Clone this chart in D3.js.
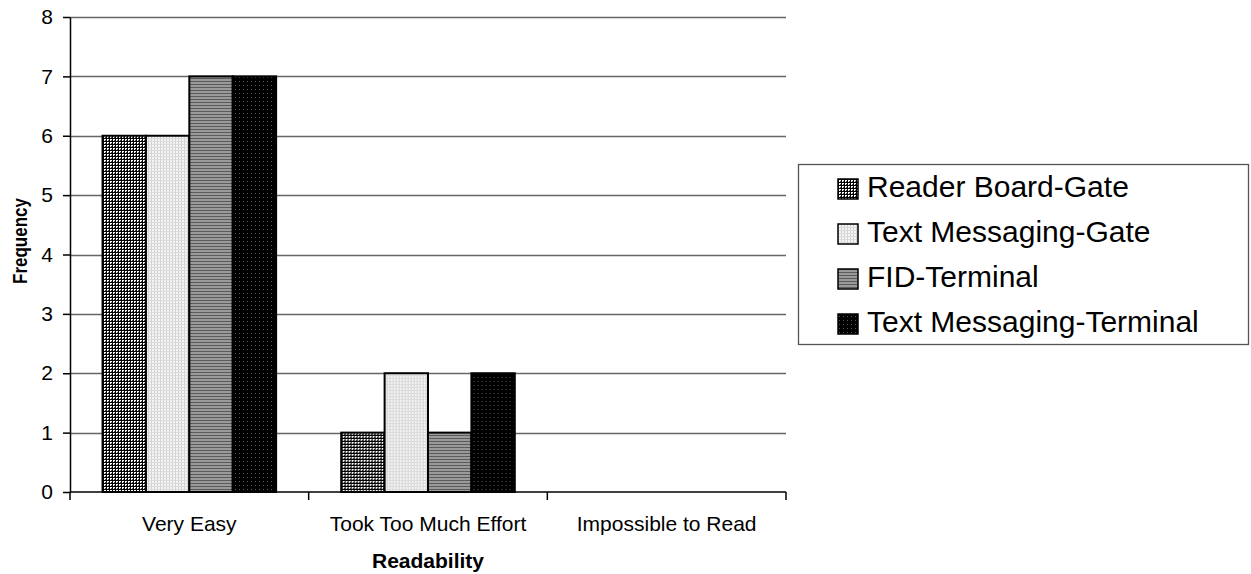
<!DOCTYPE html>
<html>
<head>
<meta charset="utf-8">
<script src="https://cdn.jsdelivr.net/npm/d3@7/dist/d3.min.js"></script>
<style>
  html, body { margin: 0; padding: 0; background: #fff; }
  svg { display: block; font-family: "Liberation Sans", Arial, sans-serif; }
</style>
</head>
<body>
<svg id="chart" width="1251" height="574"></svg>
<script>
// Readability survey responses
const categories = ["Very Easy", "Took Too Much Effort", "Impossible to Read"];
const seriesNames = ["Reader Board-Gate", "Text Messaging-Gate", "FID-Terminal", "Text Messaging-Terminal"];
const readerBoardGate = [6, 1, 0];
const textMessagingGate = [6, 2, 0];
const fidTerminal = [7, 1, 0];
const textMessagingTerminal = [7, 2, 0];
const yTicks = [0, 1, 2, 3, 4, 5, 6, 7, 8];

const seriesValues = [readerBoardGate, textMessagingGate, fidTerminal, textMessagingTerminal];
const patternIds = ["pat-grid", "pat-lightdots", "pat-hstripes", "pat-darkdots"];

const svg = d3.select("#chart");
const plot = { left: 70, right: 786, top: 17, bottom: 492 };

// Fill patterns for the four series
const defs = svg.append("defs");
{
  const p = defs.append("pattern").attr("id", "pat-grid")
    .attr("patternUnits", "userSpaceOnUse").attr("width", 3).attr("height", 3);
  p.append("rect").attr("width", 3).attr("height", 3).attr("fill", "#fff");
  p.append("rect").attr("width", 3).attr("height", 1).attr("fill", "#000");
  p.append("rect").attr("width", 1).attr("height", 3).attr("fill", "#000");
  p.append("rect").attr("x", 2).attr("y", 2).attr("width", 1).attr("height", 1).attr("fill", "#444");
}
{
  const p = defs.append("pattern").attr("id", "pat-lightdots")
    .attr("patternUnits", "userSpaceOnUse").attr("width", 3).attr("height", 3);
  p.append("rect").attr("width", 3).attr("height", 3).attr("fill", "#f4f4f4");
  p.append("rect").attr("width", 1).attr("height", 3).attr("fill", "#d0d0d0");
  p.append("rect").attr("width", 3).attr("height", 1).attr("fill", "#dcdcdc");
}
{
  const p = defs.append("pattern").attr("id", "pat-hstripes")
    .attr("patternUnits", "userSpaceOnUse").attr("width", 4).attr("height", 3);
  p.append("rect").attr("width", 4).attr("height", 3).attr("fill", "#9a9a9a");
  p.append("rect").attr("width", 4).attr("height", 1).attr("fill", "#5a5a5a");
}
{
  const p = defs.append("pattern").attr("id", "pat-darkdots")
    .attr("patternUnits", "userSpaceOnUse").attr("width", 4).attr("height", 4);
  p.append("rect").attr("width", 4).attr("height", 4).attr("fill", "#000");
  p.append("rect").attr("x", 1).attr("y", 1).attr("width", 1).attr("height", 1).attr("fill", "#555");
}

// Scales
const y = d3.scaleLinear().domain([0, 8]).range([plot.bottom, plot.top]);
const x0 = d3.scaleBand().domain(categories).range([plot.left, plot.right]).padding(0);
const bw0 = x0.bandwidth();
const barW = bw0 / (seriesNames.length + 1.5);
const x1 = d3.scaleBand().domain(seriesNames)
  .range([barW * 0.75, bw0 - barW * 0.75]).padding(0);

// Gridlines
svg.append("g")
  .selectAll("line").data(yTicks.filter(d => d > 0)).join("line")
  .attr("x1", plot.left).attr("x2", plot.right)
  .attr("y1", d => Math.round(y(d)) + 0.5).attr("y2", d => Math.round(y(d)) + 0.5)
  .attr("stroke", "#666").attr("stroke-width", 1.3);

// Bars
const groups = svg.append("g").selectAll("g").data(categories).join("g")
  .attr("transform", c => `translate(${x0(c)},0)`);
groups.selectAll("rect")
  .data((c, ci) => seriesNames.map((s, si) => ({ s, si, v: seriesValues[si][ci] })).filter(d => d.v > 0))
  .join("rect")
  .attr("x", d => x1(d.s))
  .attr("y", d => y(d.v))
  .attr("width", x1.bandwidth())
  .attr("height", d => y(0) - y(d.v))
  .attr("fill", d => `url(#${patternIds[d.si]})`)
  .attr("stroke", "#000").attr("stroke-width", 2);

// Y axis
const yAxis = svg.append("g")
  .attr("transform", `translate(${plot.left},0)`)
  .call(d3.axisLeft(y).tickValues(yTicks).tickFormat(d3.format("d")).tickSize(7).tickSizeOuter(0).tickPadding(10));
yAxis.select(".domain").attr("stroke", "#000").attr("stroke-width", 1.5);
yAxis.selectAll(".tick line").attr("stroke", "#000").attr("stroke-width", 1.5);
yAxis.selectAll(".tick text").attr("font-size", 21).attr("fill", "#000")
  .attr("font-family", "Liberation Sans, Arial, sans-serif");

// X axis: ticks at category boundaries, labels centred in each band
const xAxisG = svg.append("g").attr("transform", `translate(0,${plot.bottom})`);
xAxisG.append("line").attr("x1", plot.left).attr("x2", plot.right)
  .attr("stroke", "#000").attr("stroke-width", 1.5);
const boundaries = categories.map(c => x0(c)).concat([plot.right]);
xAxisG.selectAll("line.tk").data(boundaries).join("line").attr("class", "tk")
  .attr("x1", d => d).attr("x2", d => d).attr("y1", 0).attr("y2", 8)
  .attr("stroke", "#000").attr("stroke-width", 1.5);
xAxisG.selectAll("text").data(categories).join("text")
  .attr("x", c => x0(c) + bw0 / 2).attr("y", 39)
  .attr("text-anchor", "middle").attr("font-size", 21).text(c => c);

// Axis titles
svg.append("text")
  .attr("x", (plot.left + plot.right) / 2).attr("y", 568)
  .attr("text-anchor", "middle").attr("font-size", 21).attr("font-weight", "bold")
  .text("Readability");
svg.append("text")
  .attr("transform", "translate(27,241) scale(1.2,1) rotate(-90)")
  .attr("text-anchor", "middle").attr("font-size", 17).attr("font-weight", "bold")
  .text("Frequency");

// Legend
const legend = svg.append("g").attr("transform", "translate(798,164)");
legend.append("rect").attr("x", 0.5).attr("y", 0.5).attr("width", 450).attr("height", 180)
  .attr("fill", "#fff").attr("stroke", "#555").attr("stroke-width", 1.3);
const items = legend.selectAll("g.item").data(seriesNames).join("g").attr("class", "item")
  .attr("transform", (d, i) => `translate(40,${24 + i * 45})`);
items.append("rect").attr("x", 0).attr("y", -9).attr("width", 20).attr("height", 20)
  .attr("fill", (d, i) => `url(#${patternIds[i]})`).attr("stroke", "#000").attr("stroke-width", 1.5);
items.append("text").attr("x", 29).attr("y", 9).attr("font-size", 30).text(d => d);
</script>
</body>
</html>
